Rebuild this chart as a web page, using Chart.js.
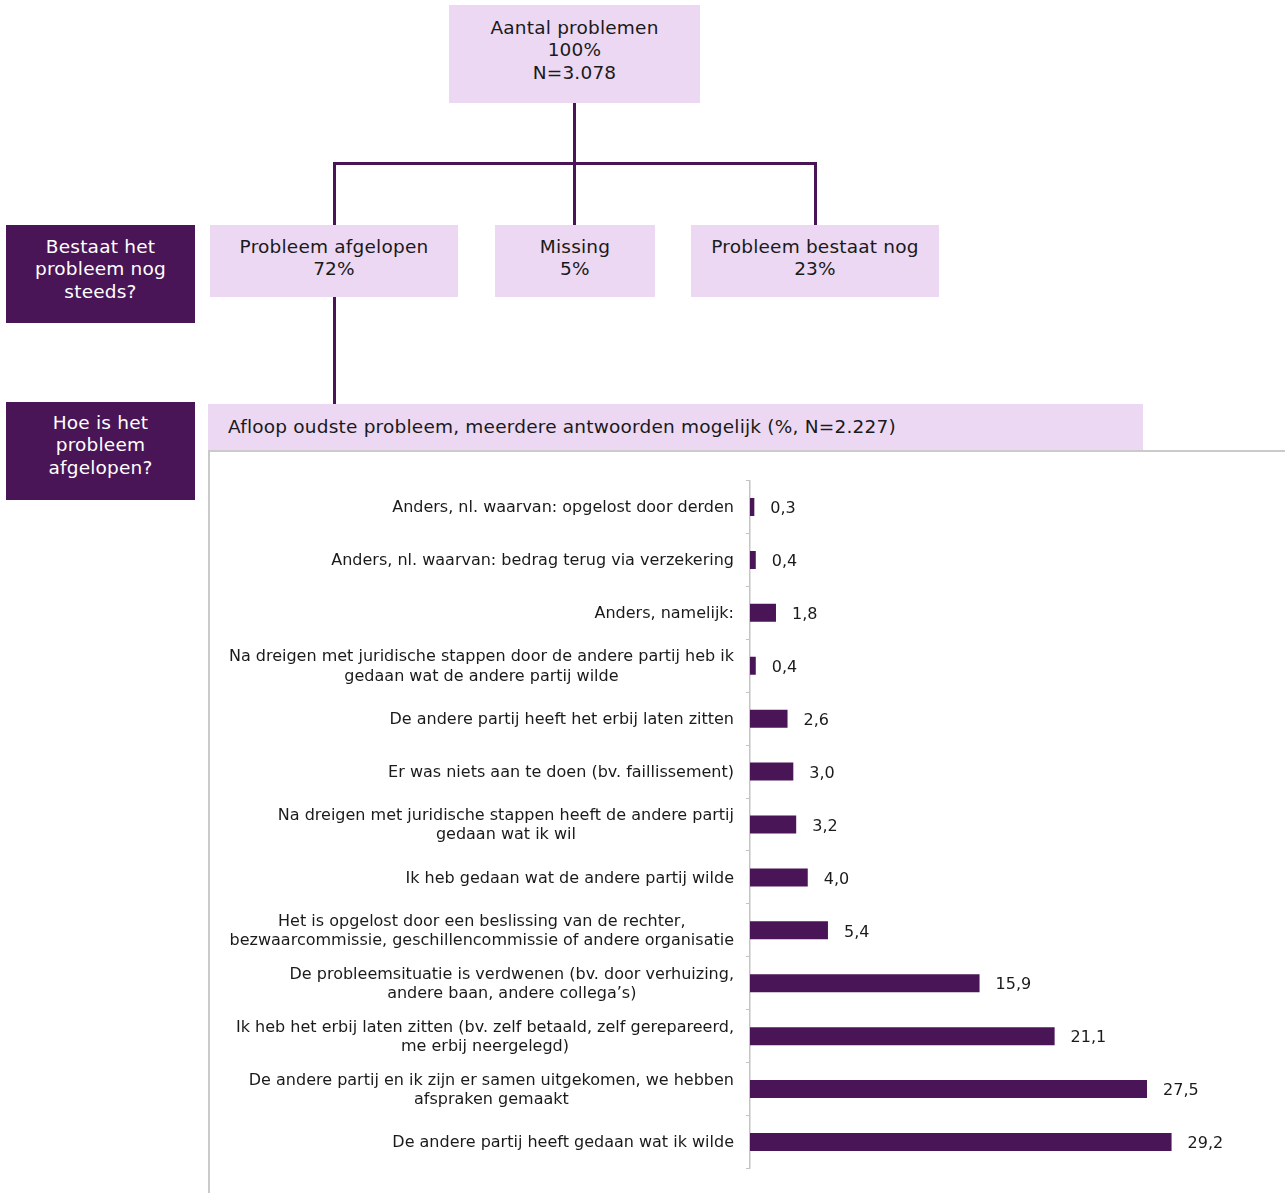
<!DOCTYPE html>
<html>
<head>
<meta charset="utf-8">
<script src="https://cdn.jsdelivr.net/npm/chart.js@4.4.1/dist/chart.umd.min.js"></script>
<style>
  body { margin: 0; background: #fff; font-family: "DejaVu Sans", Verdana, sans-serif; }
  #wrap { position: relative; width: 1285px; height: 1193px; overflow: hidden; }
  .box { position: absolute; display: flex; align-items: flex-start; justify-content: center;
         text-align: center; font-size: 18.5px; letter-spacing: 0.2px; line-height: 22.3px;
         color: #1a1a1a; box-sizing: border-box; }
  .light { background: #ecd8f3; }
  .dark { background: #4a1556; color: #fff; }
  .ln { position: absolute; background: #4a1556; }
  #frame { position: absolute; left: 208px; top: 450px; width: 1075px; height: 760px;
           border: 2px solid #cacaca; border-right: 1px solid #d8d8d8; }
  #cv { position: absolute; left: 209px; top: 452px; }
</style>
</head>
<body>
<div id="wrap">
  <div class="ln" style="left:573px;top:103px;width:3px;height:62px"></div>
  <div class="ln" style="left:333px;top:162px;width:484px;height:3px"></div>
  <div class="ln" style="left:333px;top:162px;width:3px;height:64px"></div>
  <div class="ln" style="left:573px;top:162px;width:3px;height:64px"></div>
  <div class="ln" style="left:814px;top:162px;width:3px;height:64px"></div>
  <div class="ln" style="left:333px;top:297px;width:3px;height:108px"></div>

  <div class="box light" style="left:449px;top:5px;width:251px;height:98px;padding-top:12px">Aantal problemen<br>100%<br>N=3.078</div>
  <div class="box dark" style="left:6px;top:225px;width:189px;height:98px;padding-top:11px">Bestaat het<br>probleem nog<br>steeds?</div>
  <div class="box light" style="left:210px;top:225px;width:248px;height:72px;padding-top:11px">Probleem afgelopen<br>72%</div>
  <div class="box light" style="left:495px;top:225px;width:160px;height:72px;padding-top:11px">Missing<br>5%</div>
  <div class="box light" style="left:691px;top:225px;width:248px;height:72px;padding-top:11px">Probleem bestaat nog<br>23%</div>
  <div class="box dark" style="left:6px;top:402px;width:189px;height:98px;padding-top:10px">Hoe is het<br>probleem<br>afgelopen?</div>
  <div class="box light" style="left:208px;top:404px;width:935px;height:46px;justify-content:flex-start;padding-left:20px;padding-top:12px">Afloop oudste probleem, meerdere antwoorden mogelijk (%, N=2.227)</div>

  <div id="frame"></div>
  <canvas id="cv" width="1075" height="741"></canvas>
</div>
<script>
const categories = [
  ["Anders, nl. waarvan: opgelost door derden"],
  ["Anders, nl. waarvan: bedrag terug via verzekering"],
  ["Anders, namelijk:"],
  ["Na dreigen met juridische stappen door de andere partij heb ik", "gedaan wat de andere partij wilde"],
  ["De andere partij heeft het erbij laten zitten"],
  ["Er was niets aan te doen (bv. faillissement)"],
  ["Na dreigen met juridische stappen heeft de andere partij", "gedaan wat ik wil"],
  ["Ik heb gedaan wat de andere partij wilde"],
  ["Het is opgelost door een beslissing van de rechter,", "bezwaarcommissie, geschillencommissie of andere organisatie"],
  ["De probleemsituatie is verdwenen (bv. door verhuizing,", "andere baan, andere collega\u2019s)"],
  ["Ik heb het erbij laten zitten (bv. zelf betaald, zelf gerepareerd,", "me erbij neergelegd)"],
  ["De andere partij en ik zijn er samen uitgekomen, we hebben", "afspraken gemaakt"],
  ["De andere partij heeft gedaan wat ik wilde"]
];
const values = [0.3, 0.4, 1.8, 0.4, 2.6, 3.0, 3.2, 4.0, 5.4, 15.9, 21.1, 27.5, 29.2];

const barColor = "#4a1556";
const font = "16px 'DejaVu Sans', Verdana, sans-serif";

// labels: block right-aligned to axis, lines centered in the block
const labelPlugin = {
  id: "labelPlugin",
  afterDraw(chart) {
    const ctx = chart.ctx;
    const ys = chart.scales.y;
    ctx.save();
    ctx.font = font;
    ctx.fillStyle = "#1a1a1a";
    ctx.textBaseline = "middle";
    categories.forEach((lines, i) => {
      const y = ys.getPixelForTick(i);
      const w = Math.max(...lines.map(l => ctx.measureText(l).width));
      const cx = chart.chartArea.left - 16 - w / 2;
      ctx.textAlign = "center";
      lines.forEach((l, k) => {
        ctx.fillText(l, cx, y + 1 + (k - (lines.length - 1) / 2) * 19.5);
      });
    });
    const meta = chart.getDatasetMeta(0);
    ctx.textAlign = "left";
    meta.data.forEach((bar, i) => {
      ctx.fillText(values[i].toFixed(1).replace(".", ","), bar.x + 16, bar.y + 2);
    });
    ctx.restore();
  }
};

new Chart(document.getElementById("cv"), {
  type: "bar",
  data: {
    labels: categories,
    datasets: [{
      data: values,
      backgroundColor: barColor,
      barPercentage: 0.68,
      categoryPercentage: 0.5
    }]
  },
  options: {
    indexAxis: "y",
    responsive: false,
    animation: false,
    layout: { padding: { top: 28.5, bottom: 24.5, left: 0, right: 28.7 } },
    plugins: { legend: { display: false }, tooltip: { enabled: false } },
    scales: {
      x: { display: false, min: 0, max: 35 },
      y: {
        offset: true,
        afterFit: s => { s.width = 541; },
        ticks: { display: false },
        grid: { offset: true, drawOnChartArea: false, tickLength: 4, color: "#c4c4c4", lineWidth: 1 },
        border: { color: "#c4c4c4", width: 1.5 }
      }
    }
  },
  plugins: [labelPlugin]
});
</script>
</body>
</html>
